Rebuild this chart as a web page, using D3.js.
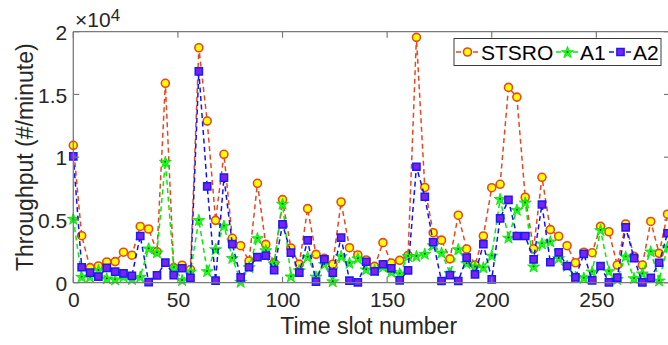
<!DOCTYPE html>
<html>
<head>
<meta charset="utf-8">
<script src="https://cdn.jsdelivr.net/npm/d3@7"></script>
<style>
  html, body { margin: 0; padding: 0; background: #fff; }
  svg { display: block; font-family: "Liberation Sans", Arial, sans-serif; }
</style>
</head>
<body>
<svg id="chart" width="668" height="345"></svg>
<script>
// Throughput per time slot (sampled every 4 slots)
const slotStep = 4;
const stsro = [10950, 3745, 1200, 1330, 1650, 1680, 2430, 2190, 4480, 4280, 2470, 15890,
  1200, 1390, 1050, 18720, 12880, 4970, 10230, 3540, 2950, 1730, 7920, 3050,
  1570, 6620, 2770, 1480, 5900, 2260, 1944, 1470, 6430, 2790, 2207, 1810,
  1300, 3190, 1570, 1780, 2170, 19550, 7590, 3984, 3390, 1900, 5380, 2690,
  1410, 3720, 7570, 7840, 15560, 14790, 6810, 2700, 8400, 4230, 3700, 2950,
  1590, 2430, 2390, 4490, 4060, 1410, 4680, 2100, 1410, 4880, 2340, 5460];
const a1 = [5100, 480, 480, 1010, 350, 270, 500, 300, 480, 2740, 2420, 9640,
  1230, 215, 900, 5000, 930, 2680, 4550, 1980, 80, 1250, 3560, 2600,
  1550, 6300, 510, 1000, 2070, 500, 1500, 120, 2130, 1590, 1950, 1070,
  1010, 1280, 880, 750, 2130, 2130, 2310, 3000, 2400, 780, 2680, 1560,
  1300, 1230, 2170, 6680, 3600, 5820, 6400, 1300, 3140, 3300, 1970, 1350,
  480, 400, 900, 4200, 930, 300, 2100, 370, 750, 2500, 180, 2850];
const a2 = [10070, 1230, 800, 480, 1180, 880, 750, 540, 3720, 50, 580, 1600,
  610, 1150, 390, 16840, 7680, 160, 8370, 3080, 430, 1230, 2040, 2150,
  1000, 4650, 2400, 810, 3370, 80, 1870, 800, 3590, 170, 30, 1670,
  900, 1470, 1150, 180, 990, 9240, 6850, 3240, 135, 600, 135, 1990,
  670, 3070, 270, 5130, 6600, 3720, 3720, 1860, 6230, 1630, 2420, 1330,
  430, 2290, 180, 1330, 20, 400, 4400, 1960, 20, 380, 1590, 3940];

const seriesNames = ["STSRO", "A1", "A2"];
const xTicks = [0, 50, 100, 150, 200, 250];
const yTicks = [0, 5000, 10000, 15000, 20000];
const yTickLabels = ["0", "0.5", "1", "1.5", "2"];

const svg = d3.select("#chart");
const W = 668, H = 345;
const mLeft = 73.3, mRight = 670, mTop = 31.7, mBottom = 282.7;
const axisCol = "#262626";
const lineCol = "#7a7a7a";

const x = d3.scaleLinear().domain([0, 285.2]).range([mLeft, mRight]);
const y = d3.scaleLinear().domain([0, 20000]).range([mBottom, mTop]);

svg.append("rect").attr("width", W).attr("height", H).attr("fill", "#fff");

const series = [
  { name: seriesNames[0], values: stsro, line: "#e8461e", kind: "circle" },
  { name: seriesNames[1], values: a1, line: "#00ee00", kind: "star" },
  { name: seriesNames[2], values: a2, line: "#1010ff", kind: "square" }
];

svg.append("clipPath").attr("id", "plotclip")
  .append("rect").attr("x", mLeft - 8).attr("y", mTop - 8)
  .attr("width", mRight - mLeft + 16).attr("height", mBottom - mTop + 16);

const plot = svg.append("g").attr("clip-path", "url(#plotclip)");

const lineGen = d3.line()
  .x((d, i) => x(i * slotStep))
  .y(d => y(d));

const starSym = d3.symbol().type(d3.symbolStar).size(44);
const squareSym = d3.symbol().type(d3.symbolSquare).size(52);

function drawMarker(g, kind, cx, cy) {
  if (kind === "circle") {
    g.append("circle").attr("cx", cx).attr("cy", cy).attr("r", 4)
      .attr("fill", "#ffff00").attr("stroke", "#e8461e").attr("stroke-width", 1.6);
  } else if (kind === "star") {
    g.append("path").attr("d", starSym())
      .attr("transform", `translate(${cx},${cy + 0.6})`)
      .attr("fill", "#19ff19").attr("stroke", "#00e000").attr("stroke-width", 0.8);
    g.append("circle").attr("cx", cx).attr("cy", cy).attr("r", 0.9).attr("fill", "#0a2a0a");
  } else {
    g.append("path").attr("d", squareSym())
      .attr("transform", `translate(${cx},${cy})`)
      .attr("fill", "#7d22e8").attr("stroke", "#1a1aff").attr("stroke-width", 1.5);
  }
}

series.forEach(s => {
  const g = plot.append("g");
  g.append("path").datum(s.values)
    .attr("d", lineGen)
    .attr("fill", "none")
    .attr("stroke", s.line)
    .attr("stroke-width", 1.5)
    .attr("stroke-dasharray", "5,3.5");
  s.values.forEach((v, i) => drawMarker(g, s.kind, x(i * slotStep), y(v)));
});

// Axes box
const axes = svg.append("g");
[[mLeft, mBottom, mRight, mBottom], [mLeft, mTop, mRight, mTop],
 [mLeft, mTop, mLeft, mBottom], [mRight, mTop, mRight, mBottom]].forEach(c => {
  axes.append("line").attr("x1", c[0]).attr("y1", c[1]).attr("x2", c[2]).attr("y2", c[3])
    .attr("stroke", lineCol).attr("stroke-width", 1.3);
});

const tickLen = 6;
// bottom axis ticks and labels
const xAxis = d3.axisBottom(x).tickValues(xTicks).tickSize(0).tickPadding(0).tickFormat(d3.format("d"));
const xg = svg.append("g").attr("transform", `translate(0,${mBottom})`).call(xAxis);
xg.select(".domain").remove();
xg.selectAll("text").attr("font-size", 21).attr("fill", axisCol)
  .attr("font-family", "Liberation Sans, Arial, sans-serif").attr("dy", 0).attr("y", 24);
xTicks.forEach(t => {
  axes.append("line").attr("x1", x(t)).attr("x2", x(t)).attr("y1", mBottom).attr("y2", mBottom - tickLen)
    .attr("stroke", lineCol).attr("stroke-width", 1.2);
  axes.append("line").attr("x1", x(t)).attr("x2", x(t)).attr("y1", mTop).attr("y2", mTop + tickLen)
    .attr("stroke", lineCol).attr("stroke-width", 1.2);
});

// left axis ticks and labels
const yAxis = d3.axisLeft(y).tickValues(yTicks).tickSize(0).tickPadding(0)
  .tickFormat((d, i) => yTickLabels[i]);
const yg = svg.append("g").attr("transform", `translate(${mLeft - 6},0)`).call(yAxis);
yg.select(".domain").remove();
yg.selectAll("text").attr("font-size", 21).attr("fill", axisCol)
  .attr("font-family", "Liberation Sans, Arial, sans-serif").attr("dy", "0.36em");
yTicks.forEach(t => {
  axes.append("line").attr("x1", mLeft).attr("x2", mLeft + tickLen).attr("y1", y(t)).attr("y2", y(t))
    .attr("stroke", lineCol).attr("stroke-width", 1.2);
  axes.append("line").attr("x1", mRight).attr("x2", mRight - tickLen).attr("y1", y(t)).attr("y2", y(t))
    .attr("stroke", lineCol).attr("stroke-width", 1.2);
});

// exponent label
const expo = svg.append("text").attr("x", 75).attr("y", 27)
  .attr("font-size", 21).attr("fill", axisCol);
expo.append("tspan").text("\u00d710");
expo.append("tspan").attr("font-size", 17).attr("dy", -6).text("4");

// axis titles
svg.append("text").attr("x", (mLeft + 668) / 2 - 2).attr("y", 334)
  .attr("text-anchor", "middle").attr("font-size", 23).attr("fill", axisCol)
  .text("Time slot number");
svg.append("text").attr("transform", `translate(33,${(mTop + mBottom) / 2}) rotate(-90)`)
  .attr("text-anchor", "middle").attr("font-size", 23).attr("fill", axisCol)
  .text("Throughput (#/minute)");

// legend
const lg = svg.append("g");
lg.append("rect").attr("x", 454).attr("y", 38.5).attr("width", 207).attr("height", 27)
  .attr("fill", "#fff").attr("stroke", axisCol).attr("stroke-width", 0.9);
const legendItems = [
  { s: series[0], x0: 456, x1: 479, tx: 481 },
  { s: series[1], x0: 556, x1: 579, tx: 580 },
  { s: series[2], x0: 609, x1: 632, tx: 633 }
];
const ly = 52;
legendItems.forEach(it => {
  lg.append("line").attr("x1", it.x0).attr("x2", it.x1).attr("y1", ly).attr("y2", ly)
    .attr("stroke", it.s.line).attr("stroke-width", 1.5).attr("stroke-dasharray", "5,3.5");
  drawMarker(lg, it.s.kind, (it.x0 + it.x1) / 2, ly);
  lg.append("text").attr("x", it.tx).attr("y", ly).attr("dy", "0.36em")
    .attr("font-size", 21).attr("fill", "#000").text(it.s.name);
});
</script>
</body>
</html>
